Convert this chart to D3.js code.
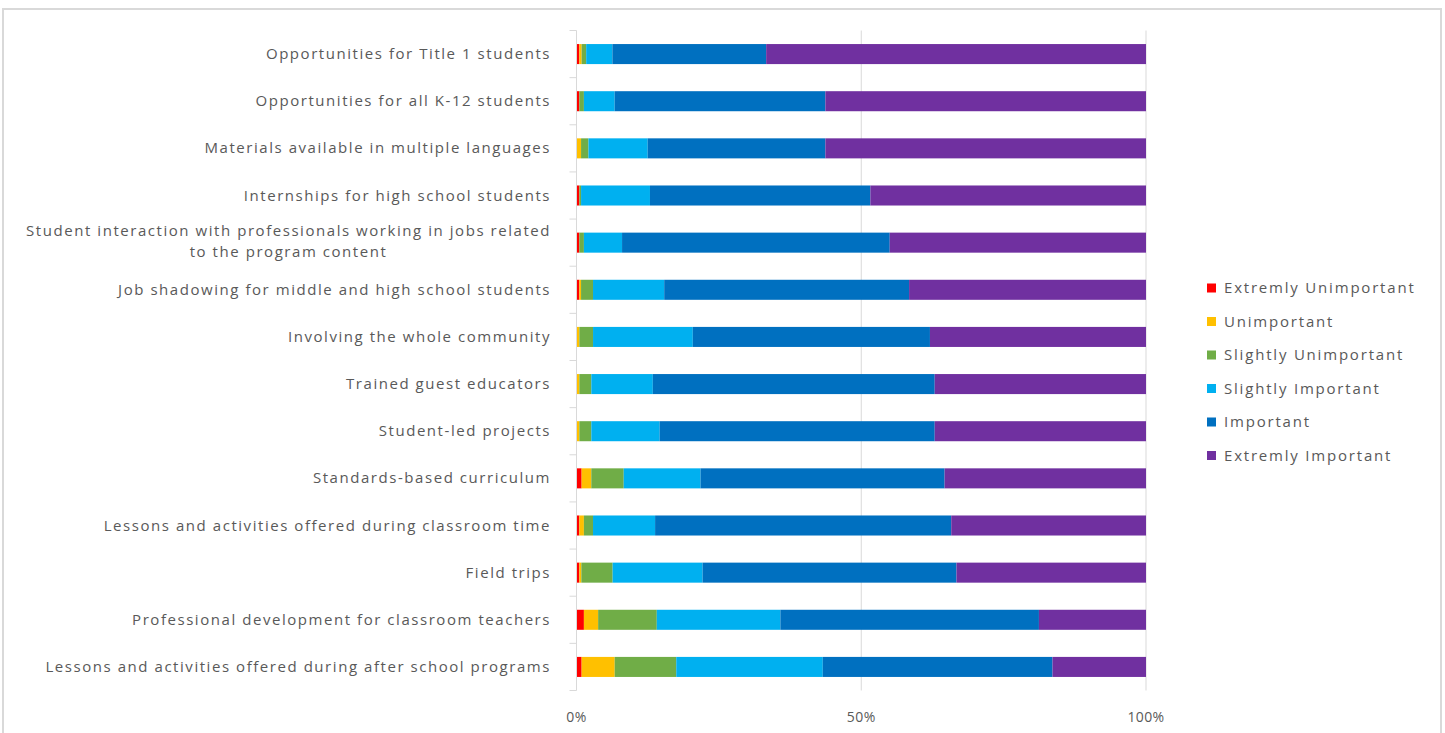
<!DOCTYPE html>
<html>
<head>
<meta charset="utf-8">
<script src="https://cdn.jsdelivr.net/npm/d3@7"></script>
<style>
  body { margin: 0; background: #fff; }
  svg { display: block; }
  text { font-family: "Open Sans", "Noto Sans", sans-serif; fill: #595959; }
</style>
</head>
<body>
<svg id="chart" width="1445" height="733"></svg>
<script>
// categories top to bottom
const categories = [
  'Opportunities for Title 1 students',
  'Opportunities for all K-12 students',
  'Materials available in multiple languages',
  'Internships for high school students',
  'Student interaction with professionals working in jobs related|to the program content',
  'Job shadowing for middle and high school students',
  'Involving the whole community',
  'Trained guest educators',
  'Student-led projects',
  'Standards-based curriculum',
  'Lessons and activities offered during classroom time',
  'Field trips',
  'Professional development for classroom teachers',
  'Lessons and activities offered during after school programs',
];
const seriesNames = ['Extremly Unimportant', 'Unimportant', 'Slightly Unimportant',
  'Slightly Important', 'Important', 'Extremly Important'];
const colors = ['#ff0000', '#ffc000', '#70ad47', '#00b0f0', '#0070c0', '#7030a0'];

// percentages, one entry per category (same order)
const extUnimportant = [0.5, 0.5, 0, 0.5, 0.5, 0.5, 0, 0, 0, 0.9, 0.5, 0.5, 1.3, 0.9];
const unimportant    = [0.4, 0, 0.8, 0, 0, 0.3, 0.5, 0.5, 0.5, 1.7, 0.8, 0.35, 2.5, 5.8];
const slUnimportant  = [0.8, 0.8, 1.3, 0.3, 0.8, 2.1, 2.4, 2.1, 2.1, 5.7, 1.6, 5.5, 10.3, 10.8];
const slImportant    = [4.6, 5.4, 10.4, 12.1, 6.7, 12.5, 17.5, 10.8, 12.0, 13.5, 10.9, 15.8, 21.7, 25.7];
const important      = [27.0, 37.0, 31.2, 38.7, 47.0, 43.0, 41.6, 49.5, 48.3, 42.9, 52.0, 44.6, 45.4, 40.3];
const extImportant   = [66.7, 56.3, 56.3, 48.4, 45.0, 41.6, 37.9, 37.1, 37.1, 35.4, 34.2, 33.3, 18.8, 16.4];
const xTicks = [0, 0.5, 1];

const keys = ['k0', 'k1', 'k2', 'k3', 'k4', 'k5'];
const rows = categories.map((c, i) => {
  const vals = [extUnimportant[i], unimportant[i], slUnimportant[i], slImportant[i], important[i], extImportant[i]];
  const tot = d3.sum(vals);
  const r = { cat: c };
  keys.forEach((k, j) => { r[k] = vals[j] / tot; });
  return r;
});

const svg = d3.select('#chart');

// outer chart frame (bottom runs off the picture)
svg.append('rect')
  .attr('x', 3).attr('y', 9)
  .attr('width', 1438).attr('height', 760)
  .attr('fill', 'none')
  .attr('stroke', '#d9d9d9')
  .attr('stroke-width', 2);

const x = d3.scaleLinear().domain([0, 1]).range([576.5, 1146]);
const y = d3.scaleBand().domain(categories).range([30.5, 690.5])
  .paddingInner(0.575).paddingOuter(0.2875);

// gridlines
svg.append('g')
  .selectAll('line')
  .data(xTicks.filter(t => t > 0))
  .enter()
  .append('line')
  .attr('x1', d => x(d)).attr('x2', d => x(d))
  .attr('y1', y.range()[0]).attr('y2', y.range()[1])
  .attr('stroke', '#d9d9d9');

// x tick labels
svg.append('g')
  .selectAll('text')
  .data(xTicks)
  .enter()
  .append('text')
  .attr('x', d => x(d))
  .attr('y', 722)
  .attr('text-anchor', 'middle')
  .attr('font-size', '14px')
  .attr('letter-spacing', '0.4px')
  .text(d3.format('.0%'));

// stacked bars
const stack = d3.stack().keys(keys)(rows);
svg.append('g')
  .selectAll('g')
  .data(stack)
  .enter()
  .append('g')
  .attr('fill', (d, i) => colors[i])
  .selectAll('rect')
  .data(d => d)
  .enter()
  .append('rect')
  .attr('x', d => x(d[0]))
  .attr('y', d => y(d.data.cat))
  .attr('height', y.bandwidth())
  .attr('width', d => x(d[1]) - x(d[0]));

// y axis line + ticks between categories
const yAxis = svg.append('g');
yAxis.append('line')
  .attr('x1', x(0)).attr('x2', x(0))
  .attr('y1', y.range()[0]).attr('y2', y.range()[1])
  .attr('stroke', '#d9d9d9');
yAxis.selectAll('.tk')
  .data(d3.range(categories.length + 1))
  .enter()
  .append('line')
  .attr('x1', x(0) - 7).attr('x2', x(0))
  .attr('y1', i => y.range()[0] + i * y.step())
  .attr('y2', i => y.range()[0] + i * y.step())
  .attr('stroke', '#d9d9d9');

// category labels (multi-line ones are centred on each other)
const labelG = svg.append('g');
categories.forEach(c => {
  const lines = c.split('|');
  const cy = y(c) + y.bandwidth() / 2;
  const t = labelG.append('text')
    .attr('font-size', '15px')
    .attr('letter-spacing', '1.55px')
    .attr('text-anchor', lines.length > 1 ? 'middle' : 'end');
  if (lines.length === 1) {
    t.attr('x', 551).attr('y', cy + 5).text(c);
  } else {
    lines.forEach((l, k) => {
      t.append('tspan').attr('x', 0).attr('y', cy - 7 + k * 21).text(l);
    });
    const w = t.node().getBBox().width;
    t.selectAll('tspan').attr('x', 551 - w / 2);
  }
});

// legend
const legend = svg.append('g').attr('transform', 'translate(1207,288)');
seriesNames.forEach((s, i) => {
  legend.append('rect')
    .attr('x', 0).attr('y', i * 33.5 - 4.5)
    .attr('width', 9).attr('height', 9)
    .attr('fill', colors[i]);
  legend.append('text')
    .attr('x', 17).attr('y', i * 33.5 + 5)
    .attr('font-size', '15px')
    .attr('letter-spacing', '1.8px')
    .text(s);
});
</script>
</body>
</html>
